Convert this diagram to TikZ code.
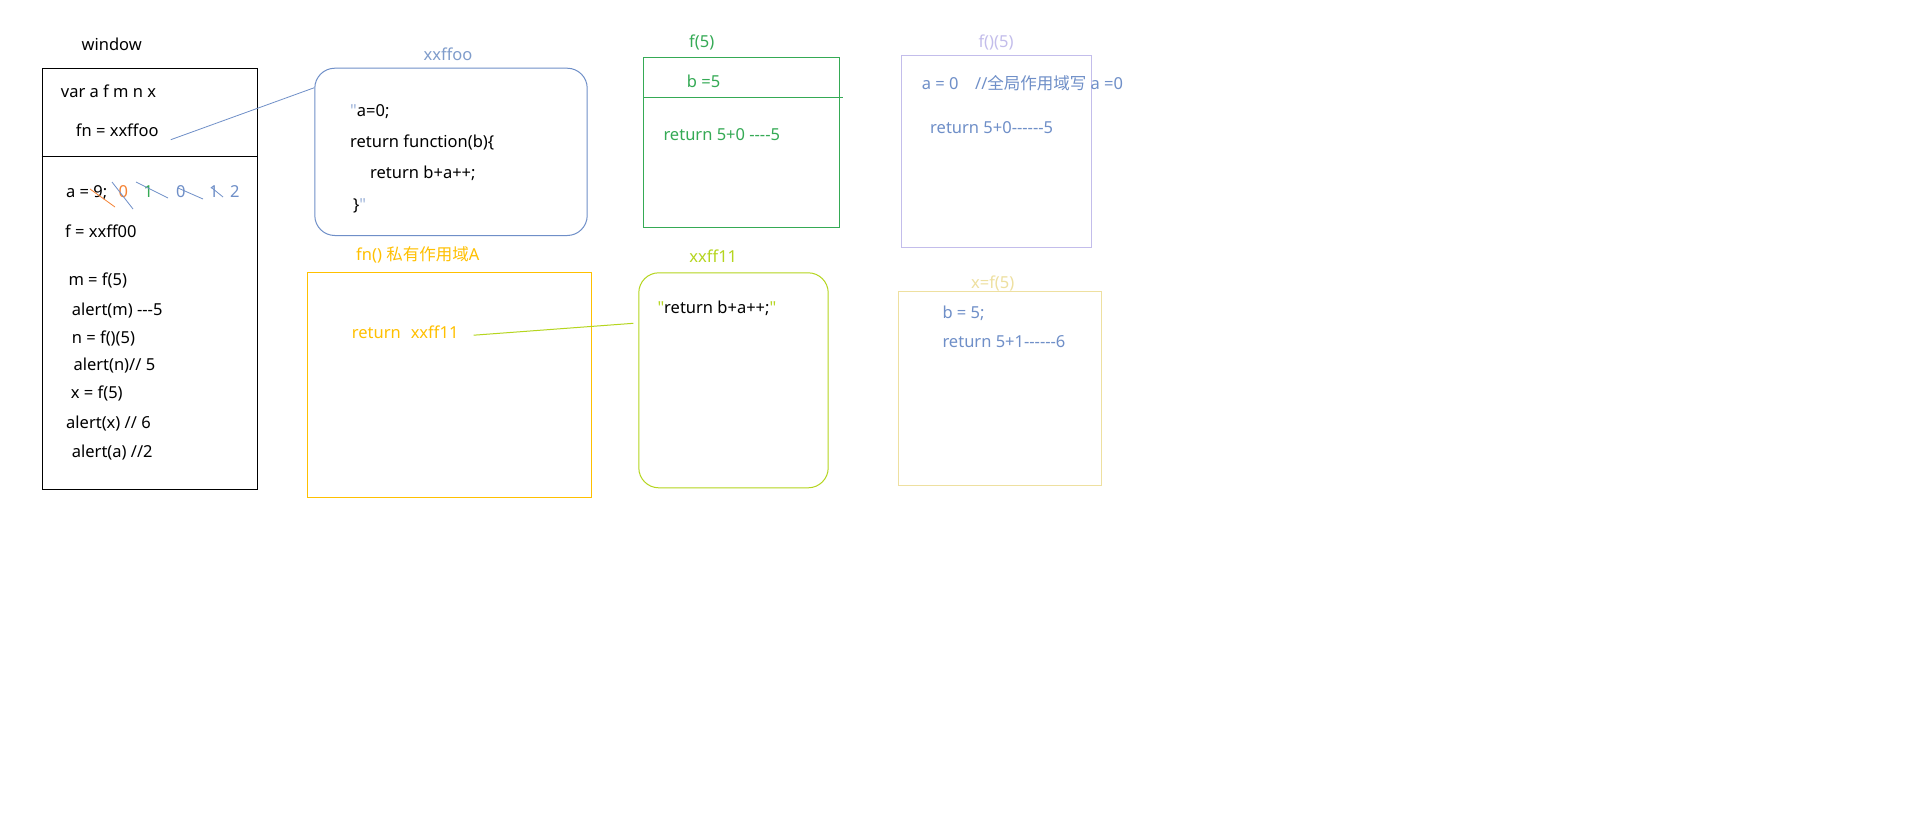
\documentclass[tikz,border=0pt]{standalone}
\usepackage{fontspec}
\newfontfamily\plain{Noto Sans}
\newfontfamily\cjk{Noto Sans CJK SC}
\usetikzlibrary{calc,positioning}
\definecolor{slate}{HTML}{6F8FC8}
\definecolor{xlabel}{HTML}{7F9CCB}
\definecolor{gold}{HTML}{FFC000}
\definecolor{leaf}{HTML}{35AA55}
\definecolor{lime}{HTML}{B5D51E}
\definecolor{lavender}{HTML}{C3BDEB}
\definecolor{sand}{HTML}{EEE0A0}
\definecolor{pumpkin}{HTML}{F58233}
\tikzset{
  txt/.style={anchor=west, inner sep=0pt, text height=0.7em, text depth=0.1em,
    yshift=-2.5pt, font=\plain\fontsize{16.5}{20}\selectfont},
  title/.style={txt, anchor=center},
  frame/.style={draw, anchor=north west, inner sep=0pt, line width=1pt},
  strike/.style={line width=0.8pt},
}
\begin{document}
\begin{tikzpicture}[x=1pt, y=-1pt]
  \useasboundingbox[fill=white] (0,0) rectangle (1914,831);
  % window
  \node (wintitle) [title] at (111.7,45) {window};
  \node (win) [frame, minimum width=215, minimum height=421] at (41.7,68.3) {};
  \draw[line width=1pt] ($(win.north west)+(0,88.4)$) -- ($(win.north east)+(0,88.4)$);
  \node (vars) [txt] at (60.7,91.7) {var a f m n x};
  \node (fnref) [txt] at (75.7,131) {fn = xxffoo};
  \node (aval) [txt] at (66,192.3) {a = 9;};
  \node (a0) [txt, text=pumpkin] at (118.3,192.3) {0};
  \node (a1) [txt, text=leaf] at (143.3,192.3) {1};
  \node (a2) [txt, text=slate] at (176,192.3) {0};
  \node (a3) [txt, text=slate] at (209,192.3) {1};
  \node (a4) [txt, text=slate] at (230,192.3) {2};
  \draw[strike, pumpkin] (90,189) -- (115,207);
  \draw[strike, slate] (112,182) -- (133,209);
  \draw[strike, slate] (136,182) -- (168,198);
  \draw[strike, slate] (178,188) -- (203,199);
  \draw[strike, slate] (212,188) -- (223,197);
  \node (fval) [txt] at (65,231.7) {f = xxff00};
  \node (mval) [txt] at (68.3,280) {m = f(5)};
  \node (alm) [txt] at (71.7,310) {alert(m) ---5};
  \node (nval) [txt] at (71.7,338) {n = f()(5)};
  \node (aln) [txt] at (73.3,365) {alert(n)// 5};
  \node (xval) [txt] at (70.7,393) {x = f(5)};
  \node (alx) [txt] at (66,423) {alert(x) // 6};
  \node (ala) [txt] at (71.7,451.7) {alert(a) //2};

  % xxffoo
  \node (foolabel) [title, text=xlabel] at (448,55) {xxffoo};
  \node (foo) [frame, draw=slate, rounded corners=20pt, minimum width=272.4, minimum height=167.3] at (314.3,67.7) {};
  \node (c1) [txt] at (350,111) {\textcolor{slate!70}{"}a=0;};
  \node (c2) [txt] at (350,141.7) {return function(b)\{};
  \node (c3) [txt] at (370,173.3) {return b+a++;};
  \node (c4) [txt] at (353,205) {\}\textcolor{slate!70}{"}};
  \draw[slate, line width=0.8pt] ([xshift=12pt, yshift=-2pt]fnref.south east) -- ($(foo.north west)+(0,20)$);

  % fn() scope A
  \node (scopelabel) [txt, text=gold] at (356,255) {fn() {\cjk 私有作用域}A};
  \node (scopeA) [frame, draw=gold, minimum width=283.4, minimum height=225] at (307.3,272.3) {};
  \node (ret11) [txt, text=gold] at (351.7,332.7) {return\hspace{0.6em}xxff11};

  % f(5)
  \node (f5label) [title, text=leaf] at (701.7,41.7) {f(5)};
  \node (f5) [frame, draw=leaf, minimum width=196, minimum height=170] at (643.3,57.3) {};
  \draw[leaf, line width=1pt] ($(f5.north west)+(0,40.4)$) -- ($(f5.north east)+(2.4,40.4)$);
  \node (b5) [txt, text=leaf] at (686.7,82.3) {b =5};
  \node (r5) [txt, text=leaf] at (663.3,135) {return 5+0 ----5};

  % xxff11
  \node (b11label) [title, text=lime] at (713.3,257.3) {xxff11};
  \node (b11) [frame, draw=lime, rounded corners=20pt, minimum width=189.4, minimum height=215] at (638.3,272.3) {};
  \node (c11) [txt] at (657.3,308.3) {\textcolor{lime}{"}return b+a++;\textcolor{lime}{"}};
  \coordinate (b11in) at ($(b11.north west)+(-5,51)$);
  \draw[lime, line width=1pt] ([xshift=15pt]ret11.east) -- (b11in);

  % f()(5)
  \node (fn5label) [title, text=lavender] at (996,41.7) {f()(5)};
  \node (fn5) [frame, draw=lavender, minimum width=190, minimum height=191.4] at (900.7,55.3) {};
  \node (ga) [txt, text=slate] at (921.7,84) {a = 0\quad//{\cjk 全局作用域写} a =0};
  \node (gr) [txt, text=slate] at (930,128.3) {return 5+0------5};

  % x=f(5)
  \node (x5) [frame, draw=sand, minimum width=202.4, minimum height=194.3] at (898.3,290.7) {};
  \node (x5label) [title, text=sand] at (992.7,283.3) {x=f(5)};
  \node (xb) [txt, text=slate] at (942.3,312.7) {b = 5;};
  \node (xr) [txt, text=slate] at (942.3,341.7) {return 5+1------6};
\end{tikzpicture}
\end{document}
